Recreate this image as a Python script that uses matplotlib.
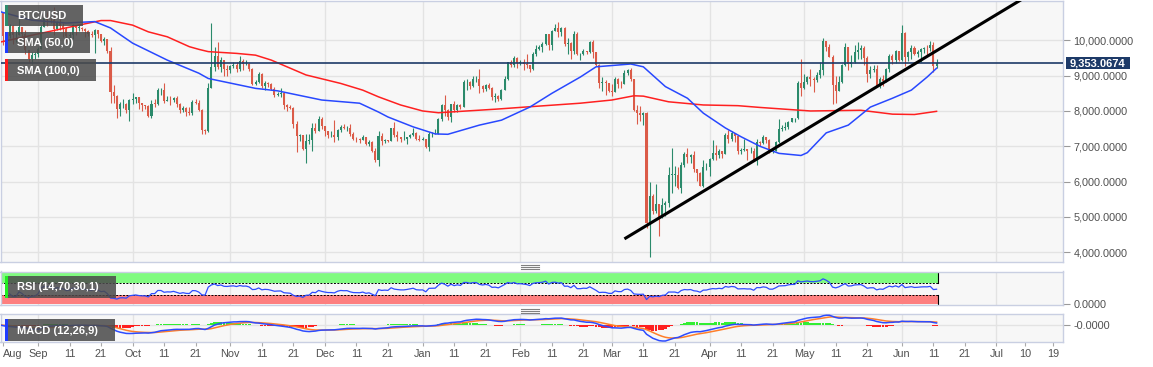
import numpy as np
import pandas as pd
import matplotlib
matplotlib.use("Agg")
import matplotlib.pyplot as plt
import matplotlib.dates as mdates
from matplotlib.patches import Rectangle
from matplotlib.transforms import blended_transform_factory

plt.rcParams['font.family'] = ['Liberation Sans', 'DejaVu Sans']

# ---------------- data (BTC/USD daily) ----------------
first_open = 10920

close_aug = [10760, 10130, 10120, 10400, 10140, 10140, 10370, 10180, 9720, 9480, 9590, 9600]
high_aug = [10950, 10780, 10240, 10450, 10420, 10300, 10620, 10380, 10280, 9720, 9670, 9660]
low_aug = [10600, 9870, 9790, 10060, 9900, 9960, 10140, 10070, 9620, 9350, 9330, 9480]

close_sep = [9760, 10380, 10620, 10580, 10570, 10320, 10490, 10410, 10330, 10110, 10160, 10420, 10360, 10360, 10310,
             10260, 10190, 10160, 10280, 10170, 9990, 10030, 9700, 8530, 8430, 8060, 8190, 8200, 8040, 8300]
high_sep = [9800, 10440, 10770, 10790, 10620, 10950, 10560, 10600, 10480, 10380, 10240, 10450, 10440, 10420, 10380,
            10350, 10280, 10260, 10320, 10290, 10180, 10080, 10040, 9800, 8730, 8450, 8260, 8330, 8220, 8340]
low_sep = [9540, 9760, 10370, 10400, 10480, 10150, 10300, 10300, 10090, 9960, 9860, 10050, 10160, 10250, 10270,
           10100, 10130, 10100, 9630, 10060, 9960, 9870, 9630, 8230, 8230, 7800, 7850, 8080, 7930, 7730]

close_oct = [8340, 8390, 8230, 8160, 8150, 7870, 8210, 8200, 8590, 8590, 8270, 8320, 8300, 8370, 8210, 8020,
             8090, 7970, 7950, 8250, 8230, 8030, 7470, 7430, 8660, 9250, 9550, 9250, 9430, 9180, 9150]
high_oct = [8500, 8400, 8400, 8230, 8170, 8170, 8310, 8330, 8660, 8640, 8800, 8420, 8420, 8400, 8410, 8220,
            8130, 8110, 8100, 8300, 8330, 8300, 8050, 7500, 8800, 10500, 9800, 9940, 9540, 9430, 9290]
low_oct = [8210, 8230, 8060, 8010, 8050, 7830, 7810, 8120, 8170, 8450, 8220, 8270, 8160, 8260, 8120, 7930,
           7970, 7870, 7900, 7880, 8200, 8000, 7360, 7360, 7400, 8640, 9120, 9200, 9100, 8990, 8990]

close_nov = [9260, 9300, 9190, 9410, 9320, 9340, 9200, 8770, 8810, 9050, 8720, 8800, 8760, 8630, 8460,
             8490, 8500, 8180, 8120, 8080, 7620, 7280, 7320, 6910, 7150, 7170, 7520, 7440, 7760, 7570]
high_nov = [9300, 9380, 9380, 9560, 9470, 9440, 9370, 9230, 8880, 9100, 9070, 8860, 8820, 8800, 8680,
            8530, 8640, 8500, 8200, 8180, 8100, 7710, 7350, 7330, 7350, 7340, 7660, 7650, 7860, 7820]
low_nov = [9070, 9220, 9090, 9120, 9170, 9290, 9140, 8740, 8740, 8780, 8650, 8580, 8690, 8580, 8400,
           8430, 8400, 8070, 8010, 8050, 7510, 6850, 7140, 6900, 6520, 7070, 6880, 7390, 7420, 7480]

close_dec = [7420, 7320, 7320, 7250, 7450, 7550, 7510, 7520, 7340, 7220, 7200, 7190, 7250, 7070, 7110, 6880,
             6620, 7280, 7150, 7190, 7150, 7510, 7320, 7250, 7200, 7200, 7250, 7320, 7390, 7220, 7190]
high_dec = [7570, 7430, 7420, 7750, 7500, 7590, 7640, 7570, 7630, 7400, 7260, 7230, 7310, 7270, 7170, 7140,
            6940, 7420, 7370, 7220, 7190, 7520, 7690, 7420, 7270, 7430, 7270, 7360, 7520, 7410, 7320]
low_dec = [7280, 7240, 7270, 7110, 7180, 7400, 7480, 7420, 7300, 7170, 7130, 7080, 7170, 7040, 7020, 6850,
           6560, 6430, 7040, 7100, 7130, 7140, 7260, 7160, 7130, 7170, 7060, 7240, 7300, 7190, 7150]

close_jan = [7200, 6970, 7340, 7350, 7360, 7760, 8160, 8040, 7820, 8190, 8020, 8180, 8110, 8810, 8820, 8720,
             8900, 8910, 8700, 8630, 8740, 8660, 8390, 8430, 8340, 8600, 8900, 9390, 9290, 9510, 9350]
high_jan = [7250, 7210, 7400, 7400, 7490, 7800, 8200, 8450, 8050, 8200, 8280, 8190, 8190, 8880, 8900, 8840,
            9000, 9000, 9190, 8730, 8770, 8790, 8670, 8500, 8440, 8610, 8980, 9400, 9430, 9560, 9520]
low_jan = [7170, 6940, 6870, 7270, 7340, 7350, 7720, 7870, 7750, 7680, 7980, 7970, 8070, 8100, 8580, 8620,
           8690, 8810, 8500, 8530, 8560, 8630, 8300, 8240, 8280, 8310, 8580, 8880, 9250, 9250, 9230]

close_feb = [9390, 9340, 9290, 9180, 9620, 9760, 9800, 9900, 10170, 9860, 10270, 10350, 10240, 10360, 9900,
             9930, 9700, 10180, 9600, 9600, 9690, 9660, 9960, 9670, 9310, 8780, 8820, 8790, 8560]
high_feb = [9440, 9470, 9600, 9300, 9670, 9860, 9870, 9950, 10180, 10170, 10300, 10460, 10520, 10380, 10380,
            10070, 9950, 10250, 10230, 9630, 9760, 9700, 9990, 10000, 9670, 9340, 8960, 8890, 8790]
low_feb = [9310, 9160, 9230, 9100, 9160, 9550, 9720, 9670, 9880, 9740, 9730, 10270, 10100, 10130, 9830,
           9600, 9480, 9620, 9590, 9440, 9580, 9610, 9650, 9510, 9270, 8650, 8570, 8460, 8550]

close_mar = [8540, 8910, 8760, 8750, 9080, 9150, 8900, 8040, 7940, 7900, 7930, 4830, 5600, 5180, 5360, 5010,
             5330, 5400, 6190, 6190, 6190, 5830, 6480, 6770, 6690, 6760, 6370, 6250, 5880, 6400, 6420]
high_mar = [8750, 8950, 8920, 8850, 9150, 9180, 9210, 8900, 8180, 8140, 7980, 7960, 6000, 5650, 5930, 5380,
            5540, 5440, 6400, 6950, 6450, 6400, 6560, 6850, 6960, 6790, 6870, 6290, 6260, 6600, 6520]
low_mar = [8420, 8530, 8660, 8660, 8760, 9010, 8850, 8010, 7630, 7720, 7600, 4700, 3870, 5080, 5100, 4450,
           4980, 5040, 5270, 5680, 5870, 5780, 5690, 6400, 6540, 6540, 6270, 6030, 5870, 5860, 6340]

close_apr = [6640, 6800, 6740, 6860, 6780, 7330, 7200, 7370, 7300, 6870, 6890, 6910, 6860, 6870, 6620,
             7120, 7100, 7260, 7190, 6880, 6880, 7120, 7480, 7510, 7540, 7700, 7790, 7790, 8800, 8660]
high_apr = [6680, 7190, 7030, 6920, 6860, 7370, 7460, 7420, 7370, 7310, 6940, 7200, 6900, 6980, 6940,
            7200, 7150, 7310, 7270, 7220, 6950, 7140, 7760, 7600, 7700, 7720, 7800, 7800, 8860, 9460]
low_apr = [6160, 6600, 6620, 6670, 6680, 6780, 7080, 7150, 7120, 6780, 6780, 6870, 6600, 6800, 6610,
           6480, 7020, 7060, 7080, 6800, 6800, 6860, 7100, 7420, 7460, 7500, 7680, 7690, 7760, 8430]

close_may = [8830, 8970, 8900, 8890, 9030, 9150, 9980, 9810, 9540, 8730, 8570, 8820, 9310, 9800, 9320, 9380,
             9670, 9720, 9780, 9510, 9060, 9170, 9180, 8720, 8900, 8840, 9200, 9570, 9430, 9700, 9450]
high_may = [9060, 9000, 9190, 8950, 9090, 9390, 10060, 9960, 9900, 9580, 9000, 8980, 9320, 9920, 9820, 9580,
            9880, 9950, 9880, 9840, 9560, 9260, 9300, 9300, 8970, 9010, 9220, 9600, 9600, 9740, 9700]
low_may = [8620, 8760, 8720, 8540, 8810, 8940, 9020, 9700, 9520, 8200, 8220, 8560, 8800, 9260, 9150, 9240,
           9350, 9480, 9460, 9300, 8820, 8930, 9100, 8700, 8640, 8700, 8820, 9110, 9330, 9360, 9410]

close_jun = [10200, 9520, 9660, 9790, 9620, 9670, 9750, 9780, 9770, 9880, 9280, 9353.0674]
high_jun = [10430, 10230, 9690, 9880, 9840, 9720, 9780, 9800, 9880, 9980, 9950, 9480]
low_jun = [9420, 9280, 9420, 9470, 9580, 9540, 9380, 9640, 9580, 9700, 9100, 9230]

month_starts = ['2019-08-20', '2019-09-01', '2019-10-01', '2019-11-01', '2019-12-01', '2020-01-01',
                '2020-02-01', '2020-03-01', '2020-04-01', '2020-05-01', '2020-06-01']

# Moving averages
sma50_dates = ['2019-08-20', '2019-08-30', '2019-09-10', '2019-09-19', '2019-09-24', '2019-10-01', '2019-10-12',
               '2019-10-22', '2019-10-25', '2019-11-09', '2019-11-16', '2019-11-30', '2019-12-12', '2019-12-18',
               '2019-12-21', '2019-12-29', '2020-01-05', '2020-01-09', '2020-01-19', '2020-01-26', '2020-02-04',
               '2020-02-11', '2020-02-20', '2020-02-25', '2020-03-07', '2020-03-11', '2020-03-18', '2020-03-25',
               '2020-03-30', '2020-04-06', '2020-04-11', '2020-04-17', '2020-04-23', '2020-04-30', '2020-05-02',
               '2020-05-08', '2020-05-15', '2020-05-19', '2020-05-22', '2020-05-29', '2020-06-04', '2020-06-09',
               '2020-06-12']
sma50_values = [10810, 10570, 10490, 10530, 10350, 9920, 9440, 9070, 8920, 8640, 8570, 8310, 8220, 7970, 7830,
                7550, 7350, 7340, 7600, 7740, 8110, 8500, 8960, 9250, 9330, 9250, 8690, 8360, 7940, 7520, 7270,
                7000, 6800, 6740, 6820, 7380, 7600, 7890, 8110, 8360, 8590, 8960, 9210]

sma100_dates = ['2019-08-20', '2019-09-15', '2019-09-21', '2019-09-24', '2019-10-01', '2019-10-06', '2019-10-12',
                '2019-10-19', '2019-10-22', '2019-10-25', '2019-11-03', '2019-11-09', '2019-11-14', '2019-11-25',
                '2019-12-06', '2019-12-13', '2019-12-18', '2019-12-25', '2020-01-01', '2020-01-06', '2020-01-15',
                '2020-01-24', '2020-02-04', '2020-02-20', '2020-03-01', '2020-03-08', '2020-03-11', '2020-03-19',
                '2020-03-30', '2020-04-10', '2020-04-17', '2020-05-03', '2020-05-19', '2020-05-29', '2020-06-05',
                '2020-06-12']
sma100_values = [9950, 10450, 10560, 10560, 10430, 10240, 10100, 9820, 9745, 9680, 9630, 9580, 9440, 9020, 8780,
                 8590, 8400, 8170, 8000, 7950, 8000, 8050, 8120, 8220, 8310, 8430, 8420, 8260, 8170, 8150, 8100,
                 8000, 8020, 7910, 7900, 7990]

trend_dates = ['2020-03-05', '2020-07-12']
trend_values = [4380, 11320]

current_price = 9353.0674
price_ticks = [4000, 5000, 6000, 7000, 8000, 9000, 10000]
x_tick_dates = ['2019-08-21', '2019-09-01', '2019-09-11', '2019-09-21', '2019-10-01', '2019-10-11', '2019-10-21',
                '2019-11-01', '2019-11-11', '2019-11-21', '2019-12-01', '2019-12-11', '2019-12-21', '2020-01-01',
                '2020-01-11', '2020-01-21', '2020-02-01', '2020-02-11', '2020-02-21', '2020-03-01', '2020-03-11',
                '2020-03-21', '2020-04-01', '2020-04-11', '2020-04-21', '2020-05-01', '2020-05-11', '2020-05-21',
                '2020-06-01', '2020-06-11', '2020-06-21', '2020-07-01', '2020-07-10', '2020-07-19']
x_tick_labels = ['Aug', 'Sep', '11', '21', 'Oct', '11', '21', 'Nov', '11', '21', 'Dec', '11', '21', 'Jan', '11',
                 '21', 'Feb', '11', '21', 'Mar', '11', '21', 'Apr', '11', '21', 'May', '11', '21', 'Jun', '11',
                 '21', 'Jul', '10', '19']
grid_months = ['2019-09-01', '2019-10-01', '2019-11-01', '2019-12-01', '2020-01-01', '2020-02-01', '2020-03-01',
               '2020-04-01', '2020-05-01', '2020-06-01', '2020-07-01']

# ---------------- assemble series ----------------
closes_m = [close_aug, close_sep, close_oct, close_nov, close_dec, close_jan, close_feb, close_mar, close_apr,
            close_may, close_jun]
highs_m = [high_aug, high_sep, high_oct, high_nov, high_dec, high_jan, high_feb, high_mar, high_apr, high_may,
           high_jun]
lows_m = [low_aug, low_sep, low_oct, low_nov, low_dec, low_jan, low_feb, low_mar, low_apr, low_may, low_jun]

dates = []
for s, lst in zip(month_starts, closes_m):
    dates.extend(list(pd.date_range(s, periods=len(lst), freq='D')))
dates = pd.DatetimeIndex(dates)
c = np.concatenate([np.array(x, float) for x in closes_m])
h = np.concatenate([np.array(x, float) for x in highs_m])
l = np.concatenate([np.array(x, float) for x in lows_m])
o = np.r_[first_open, c[:-1]]
h = np.maximum(h, np.maximum(o, c))
l = np.minimum(l, np.minimum(o, c))
x = mdates.date2num(dates)

cs = pd.Series(c)
d = cs.diff()
gain = d.clip(lower=0)
loss = -d.clip(upper=0)
ag = gain.ewm(alpha=1 / 14, adjust=True, min_periods=3).mean()
al = loss.ewm(alpha=1 / 14, adjust=True, min_periods=3).mean()
rsi = 100 - 100 / (1 + ag / al)

ema12 = cs.ewm(span=12, adjust=False).mean()
ema26 = cs.ewm(span=26, adjust=False).mean()
macd = ema12 - ema26
signal = macd.ewm(span=9, adjust=False).mean()
hist = macd - signal

# ---------------- figure ----------------
W, H = 1153, 367
fig = plt.figure(figsize=(W / 100, H / 100), dpi=100)
fig.patch.set_facecolor('white')


def pos(x0, y0, x1, y1):
    return [x0 / W, 1 - y1 / H, (x1 - x0) / W, (y1 - y0) / H]


ax = fig.add_axes(pos(0.5, 1, 1063, 262))
axr = fig.add_axes(pos(0.5, 271.5, 1063, 305), sharex=ax)
axm = fig.add_axes(pos(0.5, 313.5, 1063, 342), sharex=ax)

start = mdates.date2num(pd.Timestamp('2019-09-01'))
xlim = (start - 11.89, start + 325.1)

BG = '#f7f7f7'
SPINE = '#c9cfe2'
GRID = '#e3e3e3'
TXT = '#505050'
UP = '#2b8a6b'
DN = '#db5b48'

for a in (ax, axr, axm):
    a.set_facecolor(BG)
    for sp in a.spines.values():
        sp.set_color(SPINE)
        sp.set_linewidth(1.0)
    for gm in grid_months:
        a.axvline(mdates.date2num(pd.Timestamp(gm)), color=GRID, lw=1.0, zorder=0)
    a.yaxis.tick_right()
    a.tick_params(axis='y', which='both', direction='out', length=5, width=0.8, color='#9a9a9a',
                  labelsize=7.8, labelcolor=TXT, pad=2.5, left=False, right=True)
    a.tick_params(axis='x', which='both', bottom=False, top=False, labelbottom=False)

# main panel
ax.set_xlim(*xlim)
ax.set_ylim(3725, 11113)
ax.set_yticks(price_ticks)
ax.set_yticklabels(['{:,.4f}'.format(v) for v in price_ticks])
for v in price_ticks:
    ax.axhline(v, color=GRID, lw=1.0, zorder=0)

colors = np.where(c >= o, UP, DN)
ax.vlines(x, l, h, colors=colors, lw=0.8, zorder=3)
body_bot = np.minimum(o, c)
body_h = np.maximum(np.abs(c - o), 14)
ax.bar(x, body_h, bottom=body_bot, width=0.64, color=colors, linewidth=0, zorder=4)

ax.plot(mdates.date2num(pd.DatetimeIndex(sma100_dates)), sma100_values, color='#ff2020', lw=1.1, zorder=5)
ax.plot(mdates.date2num(pd.DatetimeIndex(sma50_dates)), sma50_values, color='#2848ff', lw=1.1, zorder=5)
ax.axhline(current_price, color='#1d3a68', lw=1.2, zorder=6)
ax.plot(mdates.date2num(pd.DatetimeIndex(trend_dates)), trend_values, color='black', lw=2.2, zorder=7,
        solid_capstyle='butt')

# RSI panel
axr.set_ylim(-2.3, 105.8)
axr.set_yticks([0])
axr.set_yticklabels(['0.0000'])
x_end = x[-1] + 0.5
axr.add_patch(Rectangle((xlim[0], 70), x_end - xlim[0], 30, facecolor='#80fb80', edgecolor='none', zorder=1))
axr.add_patch(Rectangle((xlim[0], 0), x_end - xlim[0], 30, facecolor='#fd7f7f', edgecolor='none', zorder=1))
axr.plot([x_end, x_end], [70, 100], color='black', lw=0.8, zorder=2)
axr.plot([x_end, x_end], [0, 30], color='black', lw=0.8, zorder=2)
axr.plot([xlim[0], x_end], [70, 70], color='black', lw=0.7, ls=(0, (2, 1.5)), zorder=2)
axr.plot([xlim[0], x_end], [30, 30], color='black', lw=0.7, ls=(0, (2, 1.5)), zorder=2)
axr.plot(x, rsi, color='#2d4cff', lw=0.9, zorder=3)

# MACD panel
lo = min(macd.min(), signal.min(), hist.min())
s = -lo / 16.0
axm.set_ylim(-17 * s, 11.5 * s)
axm.set_yticks([0])
axm.set_yticklabels(['-0.0000'])
axm.axhline(0, color=GRID, lw=1.0, zorder=0)
hcol = np.where(hist >= 0, '#33ee33', '#ff2020')
axm.bar(x, hist, width=0.9, color=hcol, linewidth=0, zorder=2)
axm.plot(x, signal, color='#ff7f2a', lw=1.1, zorder=3)
axm.plot(x, macd, color='#2d4cff', lw=1.1, zorder=4)

tick_x = mdates.date2num(pd.DatetimeIndex(x_tick_dates))
axm.set_xticks(tick_x)
axm.set_xticklabels(x_tick_labels)
axm.tick_params(axis='x', bottom=True, labelbottom=True, direction='out', length=3, width=0.8,
                color='#aaaaaa', labelsize=7.8, labelcolor=TXT, pad=2)
axm.get_xticklabels()[0].set_horizontalalignment('left')
axm.set_xlim(*xlim)

# ---------------- overlay (labels) ----------------
ov = fig.add_axes([0, 0, 1, 1], zorder=20)
ov.set_xlim(0, W)
ov.set_ylim(H, 0)
ov.axis('off')
ov.patch.set_alpha(0)


def label_box(x0, y0, x1, y1, bar_color, text):
    ov.add_patch(Rectangle((x0, y0), x1 - x0, y1 - y0, facecolor='#4b4b4b', alpha=0.86, edgecolor='none'))
    ov.add_patch(Rectangle((x0, y0), 3, y1 - y0, facecolor=bar_color, edgecolor='none'))
    ov.text(x0 + 12, (y0 + y1) / 2 + 0.5, text, color='white', fontsize=8, fontweight='bold',
            va='center', ha='left')


label_box(5, 5, 83, 26, '#2e8b6e', 'BTC/USD')
label_box(5, 32, 90, 53, '#1f3cff', 'SMA (50,0)')
label_box(5, 59, 96, 81, '#ff1a1a', 'SMA (100,0)')
label_box(5, 275.7, 116, 298, '#22ee22', 'RSI (14,70,30,1)')
label_box(5, 319, 115, 341, '#1f3cff', 'MACD (12,26,9)')

# current price tag
fig.canvas.draw()
py = H - ax.transData.transform((xlim[0], current_price))[1]
ov.add_patch(Rectangle((1066, py - 5.7), 64, 11.4, facecolor='#1d3a68', edgecolor='none'))
ov.text(1098, py + 0.3, '{:,.4f}'.format(current_price), color='white', fontsize=8, fontweight='bold',
        ha='center', va='center')

# panel handles
for yy in (265, 267, 269, 308.7, 310.7, 312.7):
    ov.plot([521, 539], [yy, yy], color='#808080', lw=0.8)

fig.savefig('out.png', dpi=100, facecolor='white')
